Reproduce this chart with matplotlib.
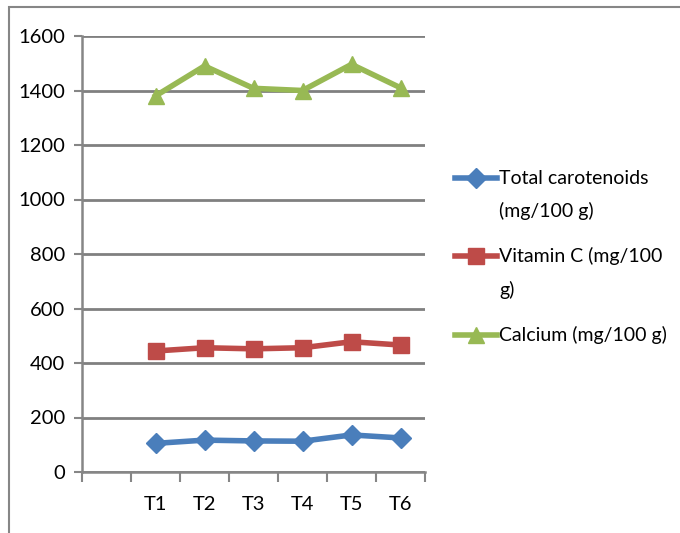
import matplotlib
matplotlib.use("Agg")
import matplotlib.pyplot as plt
from matplotlib.lines import Line2D
from matplotlib.patches import Rectangle

plt.rcParams['font.family'] = ['Lato', 'DejaVu Sans']

categories = ['', 'T1', 'T2', 'T3', 'T4', 'T5', 'T6']
carotenoids = [105, 117, 114, 113, 136, 125]
vitamin_c = [444, 456, 452, 456, 478, 466]
calcium = [1380, 1490, 1408, 1400, 1496, 1410]

series = [
    (carotenoids, '#4A7EBB', 'D', 10.5, ['Total carotenoids', '(mg/100 g)']),
    (vitamin_c, '#BE4B48', 's', 11, ['Vitamin C (mg/100', 'g)']),
    (calcium, '#98B954', '^', 12, ['Calcium (mg/100 g)']),
]

W, H = 680, 533
fig = plt.figure(figsize=(W / 100, H / 100), dpi=100)

# outer chart frame
fig.add_artist(Rectangle((9 / W, -0.1), 1.2, 1 - 7 / H + 0.1, transform=fig.transFigure,
                         fill=False, edgecolor='#868686', linewidth=1.5))

ax = fig.add_axes([82 / W, 1 - 472 / H, (425 - 82) / W, (472 - 36) / H])
xpos = range(1, len(categories))
for vals, color, marker, ms, _ in series:
    ax.plot(xpos, vals, color=color, linewidth=4, marker=marker, markersize=ms,
            markeredgecolor=color, zorder=3)

ax.set_xlim(-0.5, len(categories) - 0.5)
ax.set_ylim(0, 1600)
ax.set_yticks(range(0, 1601, 200))
ax.set_xticks(range(len(categories)))
ax.set_xticklabels(categories)
ax.set_xticks([i - 0.5 for i in range(len(categories) + 1)], minor=True)
ax.tick_params(axis='x', which='major', length=0, pad=17, labelsize=14.5)
ax.tick_params(axis='x', which='minor', length=7, width=1.5, color='#868686', direction='out')
ax.tick_params(axis='y', length=6, width=1.5, color='#868686', labelsize=14.5, pad=6)
ax.grid(axis='y', color='#808080', linewidth=2)
ax.set_axisbelow(True)
for side in ['top', 'right']:
    ax.spines[side].set_visible(False)
for side in ['left', 'bottom']:
    ax.spines[side].set_color('#868686')
    ax.spines[side].set_linewidth(1.8)

# legend drawn by hand so the key sits on the first text line
legend_rows = [(178, 211), (256, 290), (335,)]
for (vals, color, marker, ms, lines), rows in zip(series, legend_rows):
    y0 = 1 - rows[0] / H
    fig.add_artist(Line2D([455 / W, 497 / W], [y0, y0], transform=fig.transFigure,
                          color=color, linewidth=4))
    fig.add_artist(Line2D([476 / W], [y0], transform=fig.transFigure, color=color,
                          marker=marker, markersize=ms, markeredgecolor=color))
    for text, yr in zip(lines, rows):
        fig.text(499 / W, 1 - yr / H, text, fontsize=14, va='center', ha='left')

fig.savefig('out.png', dpi=100)
